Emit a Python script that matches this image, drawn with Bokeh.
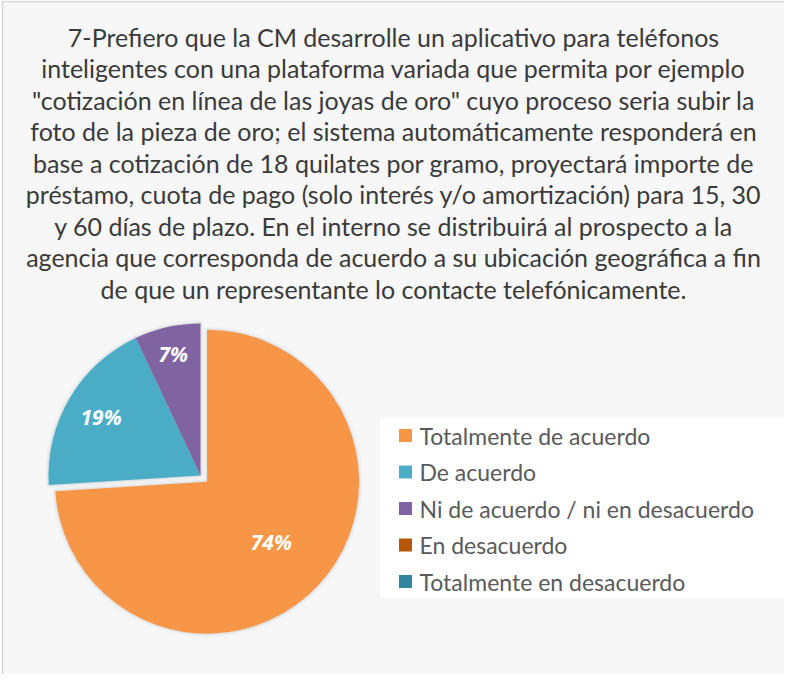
import numpy as np
from bokeh.plotting import figure
from bokeh.models import Range1d
from bokeh.core.properties import value
from bokeh.embed import file_html
from bokeh.resources import INLINE

# ---------------- data ----------------
title_lines = [
    "7-Prefiero que la CM desarrolle un aplicativo para teléfonos",
    "inteligentes con una plataforma variada que permita por ejemplo",
    "\"cotización en línea de las joyas de oro\" cuyo proceso seria subir la",
    "foto de la pieza de oro; el sistema automáticamente responderá en",
    "base a cotización de 18 quilates por gramo, proyectará importe de",
    "préstamo, cuota de pago (solo interés y/o amortización) para 15, 30",
    "y 60 días de plazo. En el interno se distribuirá al prospecto a la",
    "agencia que corresponda de acuerdo a su ubicación geográfica a fin",
    "de que un representante lo contacte telefónicamente.",
]
categories = [
    "Totalmente de acuerdo",
    "De acuerdo",
    "Ni de acuerdo / ni en desacuerdo",
    "En desacuerdo",
    "Totalmente en desacuerdo",
]
percentages = [74, 19, 7, 0, 0]
colors = ["#F79646", "#4BACC6", "#8064A2", "#B65708", "#31859C"]

# ---------------- layout (screen px -> data) ----------------
W, H = 784, 674
def X(sx):
    return sx - 8
def Y(sy):
    return 682 - sy

p = figure(width=W, height=H, output_backend="svg", toolbar_location=None,
           x_range=Range1d(0, W), y_range=Range1d(0, H),
           x_axis_type=None, y_axis_type=None, min_border=0,
           background_fill_color="white", border_fill_color="white")
p.grid.visible = False
p.outline_line_color = None

# chart frame
p.quad(left=[X(10)], right=[X(830)], top=[Y(9)], bottom=[Y(720)],
       fill_color="#f7f7f7", line_color="#d6d6d6", line_width=1.5)

# title
ty = [Y(44 + i * 31.5) for i in range(len(title_lines))]
p.text(x=[X(401)] * len(title_lines), y=ty, text=title_lines,
       text_font=value("Lato"), text_font_size="25px", text_color="#3a3a3a",
       text_align="center", text_baseline="middle")

# pie
base_cx, base_cy = X(208), Y(483)
R = 152
explode = [9, 0, 0, 0, 0]
label_k = [0.58, 0.76, 0.82, 0.7, 0.7]
fr = np.array(percentages, dtype=float) / sum(percentages)
cum = np.concatenate([[0], np.cumsum(fr)])

wx, wy, sa, ea, wc = [], [], [], [], []
lx, ly, lt = [], [], []
for i, pct in enumerate(percentages):
    if pct <= 0:
        continue
    c0, c1 = cum[i], cum[i + 1]
    m = 2 * np.pi * (c0 + c1) / 2
    cx = base_cx + np.sin(m) * explode[i]
    cy = base_cy + np.cos(m) * explode[i]
    wx.append(cx); wy.append(cy)
    sa.append(np.pi / 2 - 2 * np.pi * c0)
    ea.append(np.pi / 2 - 2 * np.pi * c1)
    wc.append(colors[i])
    lx.append(cx + np.sin(m) * label_k[i] * R)
    ly.append(cy + np.cos(m) * label_k[i] * R)
    lt.append(f"{pct}%")

# soft shadow
for lw, a in [(7, 0.05), (4, 0.07), (2, 0.1)]:
    p.wedge(x=wx, y=wy, radius=R, start_angle=sa, end_angle=ea, direction="clock",
            fill_alpha=0, line_color="#8a9bb0", line_alpha=a, line_width=lw)
p.wedge(x=wx, y=wy, radius=R, start_angle=sa, end_angle=ea, direction="clock",
        fill_color=wc, line_color=None)

p.text(x=lx, y=ly, text=lt, text_font=value("Open Sans"), text_font_size="21px",
       text_font_style="bold italic", text_color="white",
       text_align="center", text_baseline="middle")

# legend
p.quad(left=[X(388)], right=[X(794)], top=[Y(425)], bottom=[Y(605)],
       fill_color="white", line_color=None)
leg_y = [Y(443 + i * 36.5) for i in range(len(categories))]
p.rect(x=[X(413)] * len(categories), y=leg_y, width=13, height=13,
       fill_color=colors, line_color=None)
p.text(x=[X(427)] * len(categories), y=leg_y, text=categories,
       text_font=value("Lato"), text_font_size="23px", text_color="#5a5a5a",
       text_align="left", text_baseline="middle")

open("out.html", "w").write(file_html(p, INLINE))
